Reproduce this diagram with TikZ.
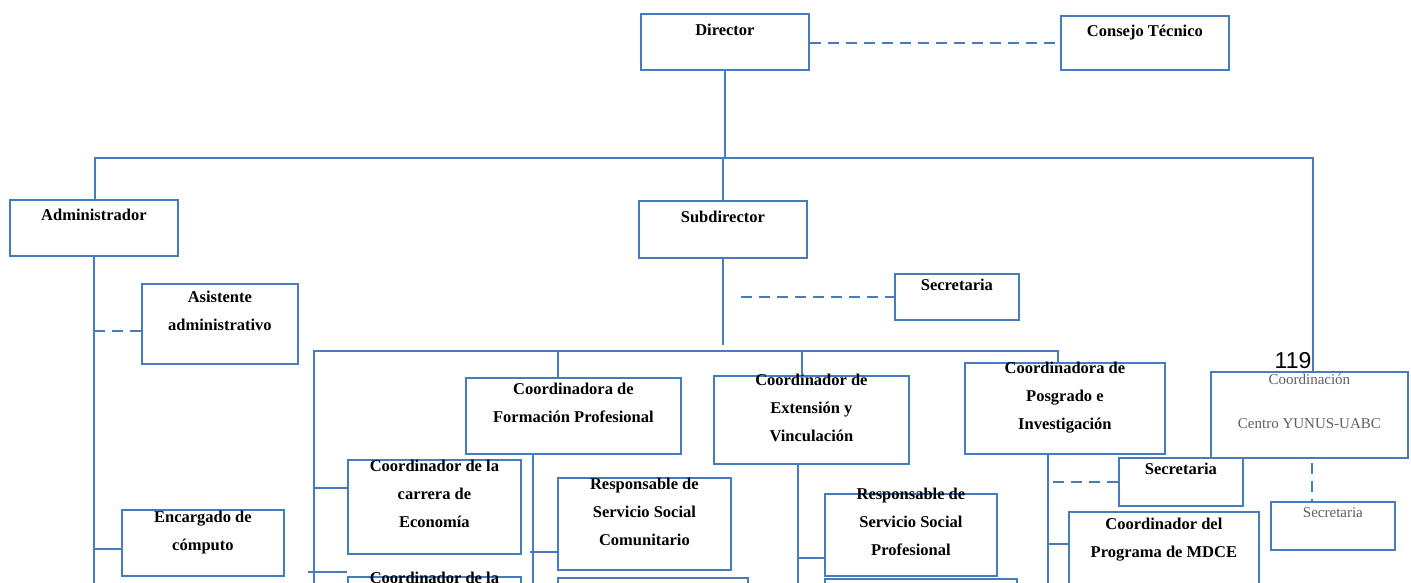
\documentclass[tikz,border=0pt]{standalone}
\usepackage{fontspec}
\setmainfont{Liberation Serif}
\newfontfamily\numfont{Liberation Sans}
\definecolor{azul}{RGB}{70,124,190}
\definecolor{gris}{RGB}{95,95,95}
\begin{document}
\begin{tikzpicture}[x=1pt,y=-1pt,
  caja/.style={draw=azul,line width=1.8pt,anchor=north west,inner sep=0pt},
  rotulo/.style={anchor=north,align=center,inner sep=0pt,font=\fontsize{16.5}{28}\selectfont\bfseries},
  suave/.style={rotulo,font=\fontsize{15}{28}\selectfont,text=gris},
  linea/.style={draw=azul,line width=1.8pt},
  guion/.style={linea,dash pattern=on 11pt off 7pt}]
\useasboundingbox (0,0) rectangle (1411,582);
\clip (0,0) rectangle (1411,582);

\node[caja,minimum width=168pt,minimum height=56pt,label={[rotulo,yshift=-11pt]north:Director}] (dir) at (640,13) {};
\node[caja,minimum width=168pt,minimum height=54pt,label={[rotulo,yshift=-10pt]north:Consejo Técnico}] (cons) at (1060,15) {};
\node[caja,minimum width=168pt,minimum height=56pt,label={[rotulo,yshift=-10pt]north:Administrador}] (adm) at (9,199) {};
\node[caja,minimum width=168pt,minimum height=57pt,label={[rotulo,yshift=-11pt]north:Subdirector}] (sub) at (638,200) {};
\node[caja,minimum width=124pt,minimum height=46pt,label={[rotulo,yshift=-6pt]north:Secretaria}] (secs) at (894,273) {};
\node[caja,minimum width=156pt,minimum height=80pt,label={[rotulo,yshift=-8pt]north:Asistente\\administrativo}] (asis) at (141,283) {};
\node[caja,minimum width=215pt,minimum height=76pt,label={[rotulo,yshift=-6pt]north:Coordinadora de\\Formación Profesional}] (form) at (465,377) {};
\node[caja,minimum width=195pt,minimum height=88pt,label={[rotulo,yshift=1pt]north:Coordinador de\\Extensión y\\Vinculación}] (ext) at (713,375) {};
\node[caja,minimum width=200pt,minimum height=91pt,label={[rotulo,yshift=0pt]north:Coordinadora de\\Posgrado e\\Investigación}] (pos) at (964,362) {};
\node[caja,minimum width=197pt,minimum height=86pt,label={[suave,yshift=-3pt]north:{Coordinación\\[16pt]Centro YUNUS-UABC}}] (yun) at (1210,371) {};
\node[caja,minimum width=162pt,minimum height=66pt,label={[rotulo,yshift=-2pt]north:Encargado de\\cómputo}] (comp) at (121,509) {};
\node[caja,minimum width=173pt,minimum height=94pt,label={[rotulo,yshift=-1pt]north:Coordinador de la\\carrera de\\Economía}] (eco) at (347,459) {};
\node[caja,minimum width=173pt,minimum height=80pt,label={[rotulo,yshift=4pt]north:Coordinador de la}] (eco2) at (347,576) {};
\node[caja,minimum width=173pt,minimum height=92pt,label={[rotulo,yshift=-1pt]north:Responsable de\\Servicio Social\\Comunitario}] (ssc) at (557,477) {};
\node[caja,minimum width=190pt,minimum height=80pt] (ssc2) at (557,577) {};
\node[caja,minimum width=172pt,minimum height=82pt,label={[rotulo,yshift=5pt]north:Responsable de\\Servicio Social\\Profesional}] (ssp) at (824,493) {};
\node[caja,minimum width=192pt,minimum height=80pt] (ssp2) at (824,578) {};
\node[caja,minimum width=124pt,minimum height=48pt,label={[rotulo,yshift=-6pt]north:Secretaria}] (secp) at (1118,457) {};
\node[caja,minimum width=190pt,minimum height=130pt,label={[rotulo,yshift=-7pt]north:Coordinador del\\Programa de MDCE}] (mdce) at (1068,511) {};
\node[caja,minimum width=124pt,minimum height=48pt,label={[suave,yshift=-6pt]north:Secretaria}] (secy) at (1270,501) {};
\node[font=\numfont\fontsize{23}{23}\selectfont,inner sep=0pt] (pag) at (1293,361) {119};

\coordinate (busa) at (95,158);
\coordinate (busb) at (1313,158);
\coordinate (busc) at (314,351);
\coordinate (busd) at (1058,351);
\coordinate (tform) at (558,351);
\coordinate (tvinc) at (802,351);
\coordinate (vform) at (533,453);
\coordinate (vvinc) at (798,463);
\coordinate (vpos) at (1048,453);
\coordinate (fondo) at (0,600);

\draw[linea] (dir.south) -- (dir.south |- busa);
\draw[linea] (busa |- adm.north) -- (busa) -- (busb) -- (busb |- yun.north);
\draw[linea] (busa -| sub.north) -- (sub.north);
\draw[guion] ([yshift=-1pt]dir.east) -- ([yshift=-1pt]dir.east -| cons.west);
\draw[linea] (sub.south) -- ([yshift=6pt]sub.south |- busc);
\draw[guion] ([xshift=18pt]sub.south |- secs.west) -- (secs.west);
\draw[linea] (busc |- fondo) -- (busc) -- (busd) -- (busd |- pos.north);
\draw[linea] (tform) -- (tform |- form.north);
\draw[linea] (tvinc) -- (tvinc |- ext.north);
\draw[linea] (adm.south) -- (adm.south |- fondo);
\draw[guion] ([yshift=-7pt]adm.south |- asis.west) -- ([yshift=-7pt]asis.west);
\draw[linea] ([yshift=-6pt]adm.south |- comp.west) -- ([yshift=-6pt]comp.west);
\draw[linea] ([yshift=19pt]busc |- eco.west) -- ([yshift=19pt]eco.west);
\draw[linea] ([xshift=-6pt,yshift=4pt]busc |- eco2.north) -- ([yshift=4pt]eco2.north west);
\draw[linea] (vform) -- (vform |- fondo);
\draw[linea] ([xshift=-3pt,yshift=-28pt]vform |- ssc.west) -- ([yshift=-28pt]ssc.west);
\draw[linea] (vvinc) -- (vvinc |- fondo);
\draw[linea] ([yshift=-23pt]vvinc |- ssp.west) -- ([yshift=-23pt]ssp.west);
\draw[linea] (vpos) -- (vpos |- fondo);
\draw[guion] ([xshift=5pt]vpos |- secp.west) -- (secp.west);
\draw[linea] ([yshift=33pt]vpos |- mdce.west) -- ([yshift=33pt]mdce.west);
\draw[guion] ([xshift=2.5pt,yshift=-4pt]yun.south) -- ([xshift=2.5pt]yun.south |- secy.north);
\end{tikzpicture}
\end{document}
